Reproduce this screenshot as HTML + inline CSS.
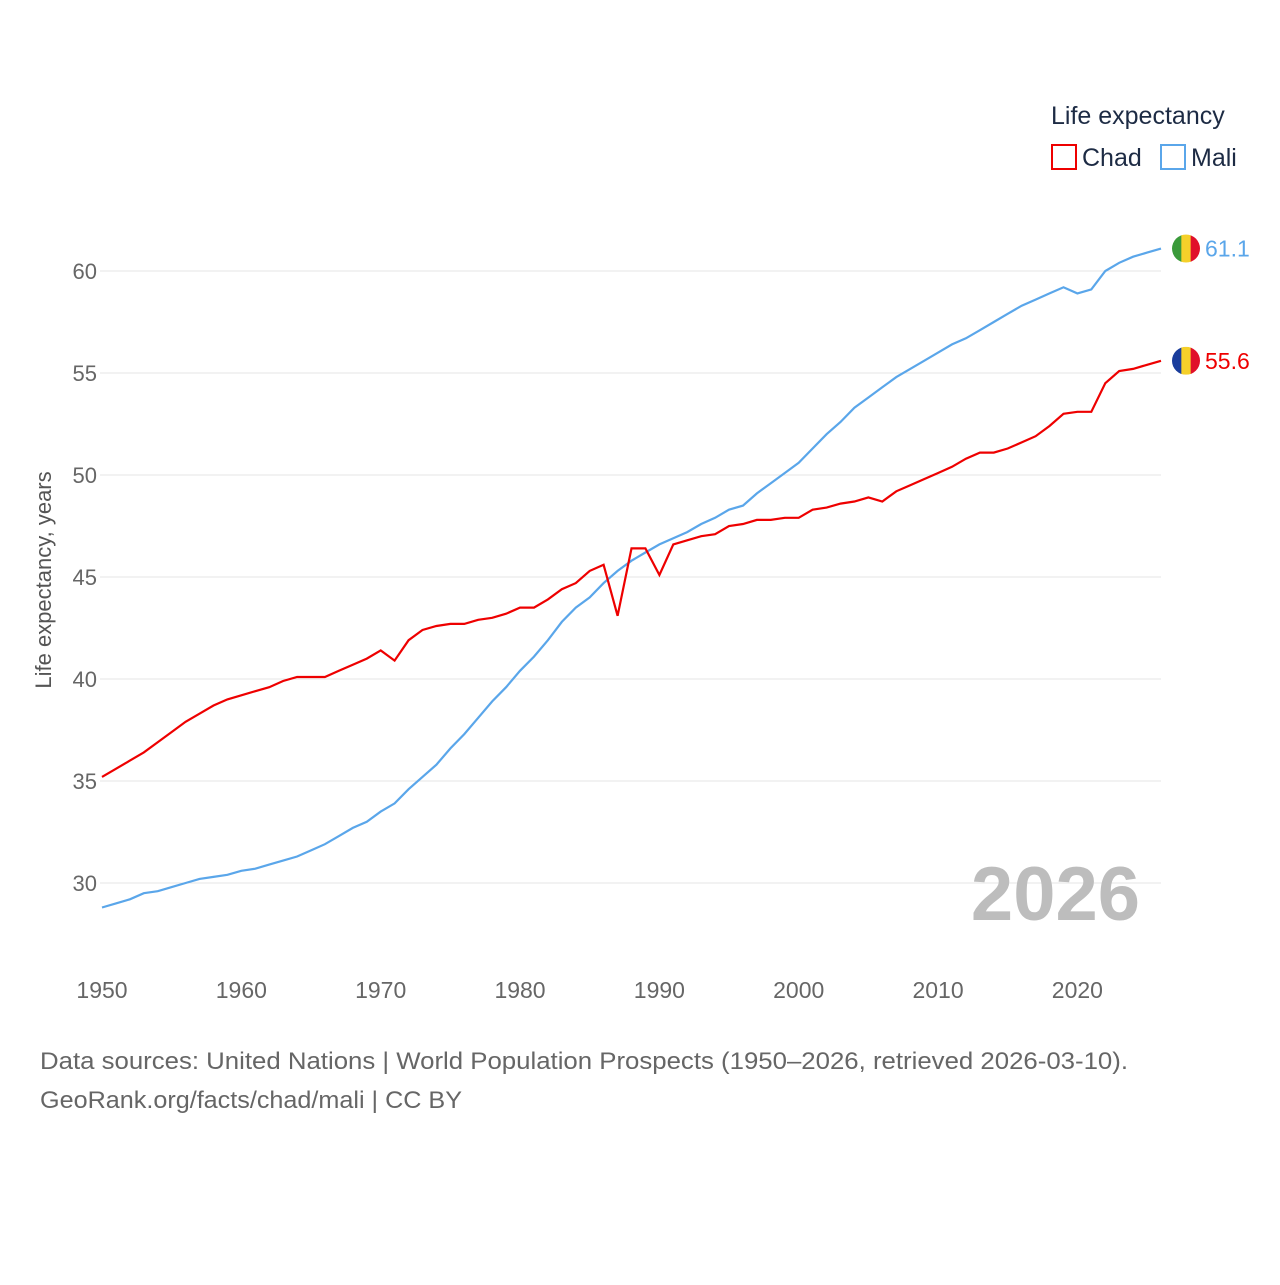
<!DOCTYPE html>
<html><head><meta charset="utf-8"><style>
body{margin:0;background:#fff;font-family:"Liberation Sans",sans-serif}
svg text{font-family:"Liberation Sans",sans-serif}
</style></head><body>
<svg id="chart" width="1280" height="1280" viewBox="0 0 1280 1280">
<g id="grid"></g><g id="yticks"></g><g id="xticks"></g><g id="lines"></g>
<text x="1051" y="124" font-size="25" fill="#1d2b44">Life expectancy</text>
<g><rect x="1052" y="145" width="24" height="24" fill="none" stroke="#e00" stroke-width="2"/><text x="1082" y="166" font-size="25" fill="#1d2b44">Chad</text></g>
<g><rect x="1161" y="145" width="24" height="24" fill="none" stroke="#5aa6ea" stroke-width="2"/><text x="1191" y="166" font-size="25" fill="#1d2b44">Mali</text></g>
<text transform="translate(51,580) rotate(-90)" text-anchor="middle" font-size="22" fill="#555">Life expectancy, years</text>
<text x="1140" y="920" text-anchor="end" font-size="76" font-weight="bold" fill="#bdbdbd">2026</text>
<text x="40" y="1069" font-size="24" fill="#666" textLength="1088" lengthAdjust="spacingAndGlyphs">Data sources: United Nations | World Population Prospects (1950–2026, retrieved 2026-03-10).</text>
<text x="40" y="1108" font-size="24" fill="#666" textLength="422" lengthAdjust="spacingAndGlyphs">GeoRank.org/facts/chad/mali | CC BY</text>
<g id="ends"></g>
</svg>
<script>
const years=[];for(let y=1950;y<=2026;y++)years.push(y);
const chad=[35.2,35.6,36.0,36.4,36.9,37.4,37.9,38.3,38.7,39.0,39.2,39.4,39.6,39.9,40.1,40.1,40.1,40.4,40.7,41.0,41.4,40.9,41.9,42.4,42.6,42.7,42.7,42.9,43.0,43.2,43.5,43.5,43.9,44.4,44.7,45.3,45.6,43.1,46.4,46.4,45.1,46.6,46.8,47.0,47.1,47.5,47.6,47.8,47.8,47.9,47.9,48.3,48.4,48.6,48.7,48.9,48.7,49.2,49.5,49.8,50.1,50.4,50.8,51.1,51.1,51.3,51.6,51.9,52.4,53.0,53.1,53.1,54.5,55.1,55.2,55.4,55.6];
const mali=[28.8,29.0,29.2,29.5,29.6,29.8,30.0,30.2,30.3,30.4,30.6,30.7,30.9,31.1,31.3,31.6,31.9,32.3,32.7,33.0,33.5,33.9,34.6,35.2,35.8,36.6,37.3,38.1,38.9,39.6,40.4,41.1,41.9,42.8,43.5,44.0,44.7,45.3,45.8,46.2,46.6,46.9,47.2,47.6,47.9,48.3,48.5,49.1,49.6,50.1,50.6,51.3,52.0,52.6,53.3,53.8,54.3,54.8,55.2,55.6,56.0,56.4,56.7,57.1,57.5,57.9,58.3,58.6,58.9,59.2,58.9,59.1,60.0,60.4,60.7,60.9,61.1];
const yTicks=[30,35,40,45,50,55,60];
const xTicks=[1950,1960,1970,1980,1990,2000,2010,2020];
const NS="http://www.w3.org/2000/svg";
const X=y=>102+(y-1950)*(1059/76);
const Y=v=>883-(v-30)*20.4;
function mk(t,a,p){const e=document.createElementNS(NS,t);for(const k in a)e.setAttribute(k,a[k]);p.appendChild(e);return e;}
const grid=document.getElementById('grid'),yt=document.getElementById('yticks'),xt=document.getElementById('xticks'),ln=document.getElementById('lines'),ends=document.getElementById('ends');
yTicks.forEach(v=>{
 const l=mk('line',{x1:100,x2:1161,y1:Y(v),y2:Y(v),stroke:'#e6e6e6','stroke-width':1},grid);
 
 
 const t=mk('text',{x:97,y:Y(v)+8,'text-anchor':'end','font-size':22,fill:'#666'},yt);t.textContent=v;
 
 
});
xTicks.forEach(v=>{
 const t=mk('text',{x:X(v),y:998,'text-anchor':'middle','font-size':23,fill:'#666'},xt);t.textContent=v;
 
 
});
function line(vals,color,name){
 const p=mk('path',{d:vals.map((v,i)=>(i?'L':'M')+X(years[i]).toFixed(1)+','+Y(v).toFixed(1)).join(''),fill:'none',stroke:color,'stroke-width':2.2},ln);
 
 
}
line(mali,'#5aa6ea','mali-line');
line(chad,'#e00','chad-line');
function flag(vals,cols,color,name){
 const v=vals[vals.length-1],cx=1186,cy=Y(v),g=mk('g',{},ends);
 
 
 const cp=mk('clipPath',{id:name+'c'},g);mk('circle',{cx:cx,cy:cy,r:14},cp);
 cols.forEach((c,i)=>mk('rect',{x:cx-14+i*28/3,y:cy-14,width:28/3+0.5,height:28,fill:c,'clip-path':'url(#'+name+'c)'},g));
 const t=mk('text',{x:1205,y:cy+8,'font-size':23,fill:color},g);t.textContent=v.toFixed(1);
}
flag(mali,['#3a9a3a','#f5d02a','#e0102a'],'#5aa6ea','mali-end-label');
flag(chad,['#1a3d9c','#f5d02a','#e0102a'],'#e00','chad-end-label');
</script>
</body></html>
